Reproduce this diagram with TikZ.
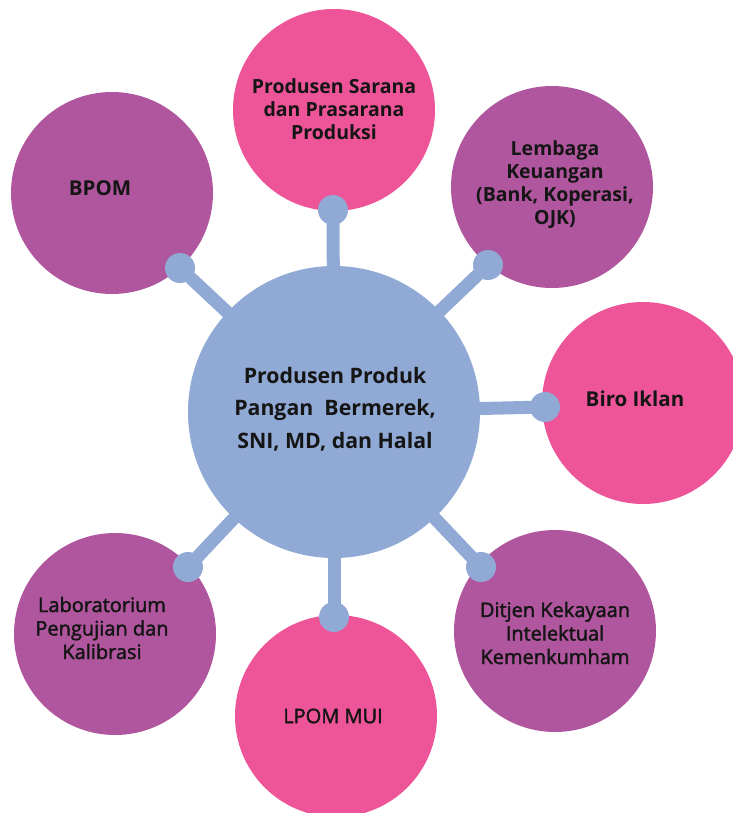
\documentclass[tikz,border=0pt]{standalone}
\usepackage{fontspec}
\setmainfont{Open Sans}
\newfontfamily\medfont[FakeBold=2]{Open Sans}
\definecolor{cpurple}{HTML}{B0569E}
\definecolor{cpink}{HTML}{EE5599}
\definecolor{cblue}{HTML}{91AAD5}
\definecolor{ctext}{HTML}{151515}
\tikzset{
  bubble/.style={circle, inner sep=0pt, minimum size=202pt},
  purplebub/.style={bubble, fill=cpurple},
  pinkbub/.style={bubble, fill=cpink},
  hubnode/.style={circle, inner sep=0pt, minimum size=292pt, fill=cblue},
  dotnode/.style={circle, inner sep=0pt, minimum size=30pt, fill=cblue},
  spoke/.style={draw=cblue, line width=13pt},
  lbl/.style={align=center, text=ctext, font=\bfseries\fontsize{19.5}{23}\selectfont},
  lblbig/.style={align=center, text=ctext, font=\bfseries\fontsize{20.5}{23}\selectfont},
  lbllight/.style={align=center, text=ctext, font=\medfont\fontsize{20}{23.5}\selectfont},
  hubtext/.style={align=center, text=ctext, font=\bfseries\fontsize{21.3}{32.5}\selectfont}
}
\begin{document}
\begin{tikzpicture}[x=1pt,y=-1pt]
\useasboundingbox (0,0) rectangle (732,813);
% outer bubbles
\node[pinkbub]   (top)     at (334,110) {};
\node[purplebub] (bpom)    at (112,193) {};
\node[purplebub] (lembaga) at (552,187) {};
\node[pinkbub]   (biro)    at (643,403) {};
\node[purplebub] (ditjen)  at (555,631) {};
\node[pinkbub]   (lpom)    at (336,716) {};
\node[purplebub] (lab)     at (115,634) {};
% hub
\node[hubnode] (hub) at (334,412) {};
% connector ends
\node[dotnode] (dtop)     at (333,210) {};
\node[dotnode] (dbpom)    at (180,268) {};
\node[dotnode] (dlembaga) at (488,265) {};
\node[dotnode] (dbiro)    at (545,407) {};
\node[dotnode] (dditjen)  at (481,567) {};
\node[dotnode] (dlpom)    at (334,617) {};
\node[dotnode] (dlab)     at (188,567) {};
% spokes
\foreach \d in {dtop,dbpom,dlembaga,dbiro,dditjen,dlpom,dlab}
  \draw[spoke] (hub.center) -- (\d.center);
% texts
\node[hubtext] (hubtxt) at (335,409) {Produsen Produk\\Pangan\ \ Bermerek,\\SNI, MD, dan Halal};
\node[lbl] (toptxt) at (334,109) {Produsen Sarana\\dan Prasarana\\Produksi};
\node[lblbig] (bpomtxt) at (100,188) {BPOM};
\node[lbl] (lembagatxt) at (555,185) {Lembaga\\Keuangan\\(Bank, Koperasi,\\OJK)};
\node[lblbig] (birotxt) at (635,399) {Biro Iklan};
\node[lbllight] (labtxt) at (102,628) {Laboratorium\\Pengujian dan\\Kalibrasi};
\node[lbllight] (ditjentxt) at (555,633) {Ditjen Kekayaan\\Intelektual\\Kemenkumham};
\node[lbllight] (lpomtxt) at (333,716) {LPOM MUI};
\end{tikzpicture}
\end{document}
